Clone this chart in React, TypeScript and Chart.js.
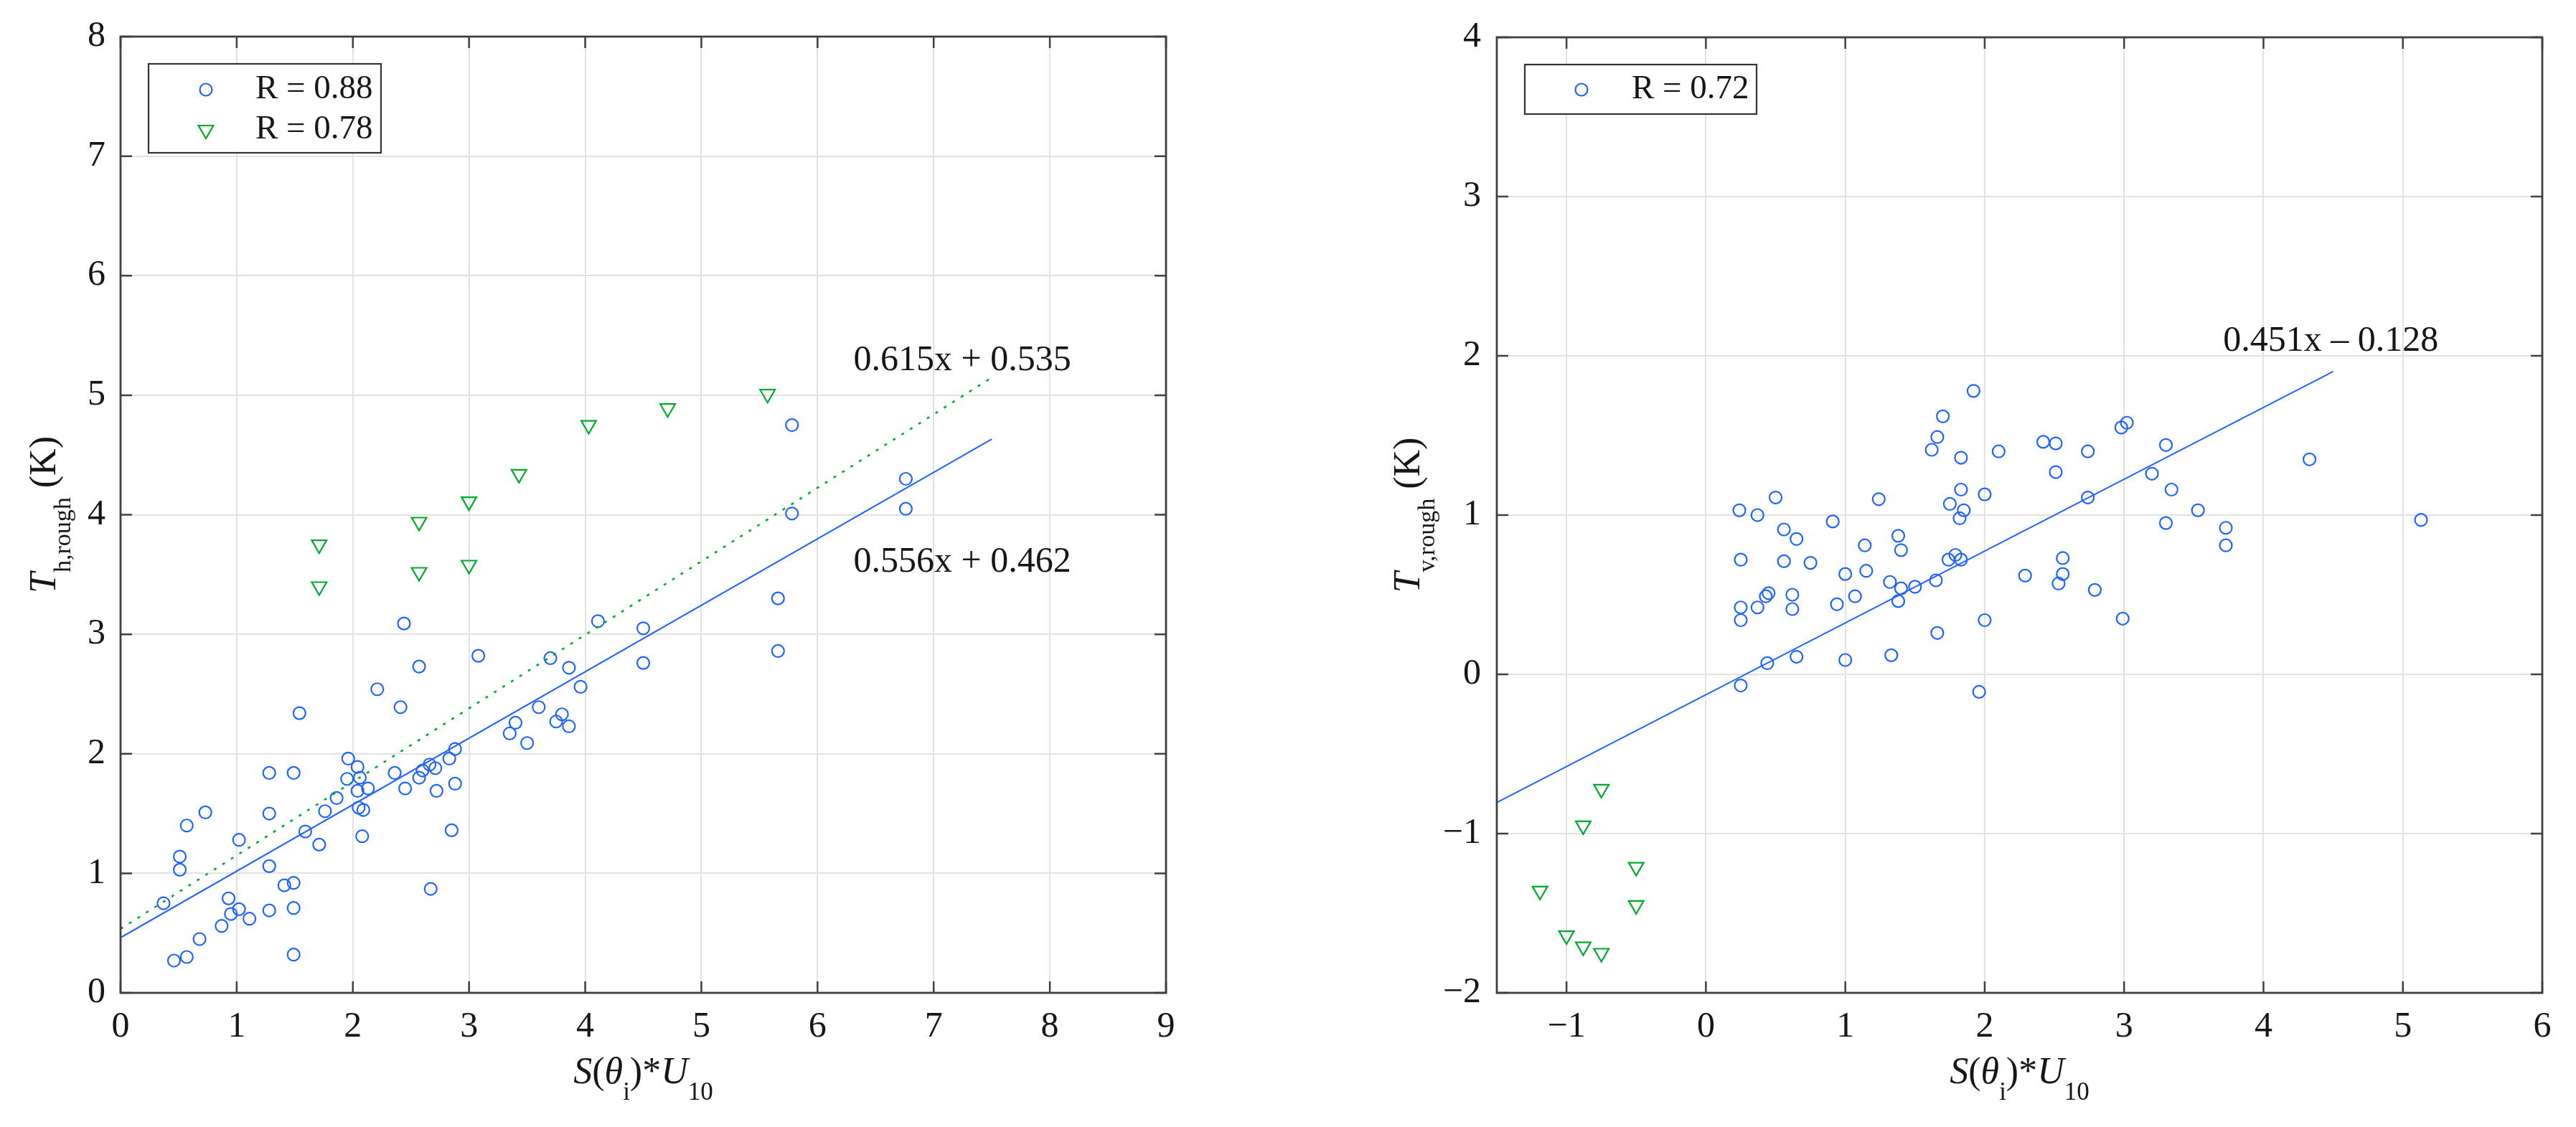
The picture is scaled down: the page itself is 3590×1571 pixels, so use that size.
import React, { useEffect, useRef } from 'react';
import { Chart, registerables } from 'chart.js';

Chart.register(...registerables);

const FONT = '"Liberation Serif", "Times New Roman", Times, serif';
const BLUE = '#1f64ff';
const GREEN = '#00aa2e';
const AXIS = '#404040';
const GRID = '#e2e2e2';
const TEXT = '#161616';

// ---------------- Left panel data ----------------
const leftCircleX = [2.44, 4.11, 4.5, 4.5, 3.08, 2.57, 3.7, 3.86, 3.96, 2.21, 2.41, 1.54, 3.6, 3.8, 3.75, 3.86, 3.4, 3.35, 3.5, 2.88, 2.83, 1.96, 2.04, 2.36, 1.28, 1.49, 2.66, 2.71, 2.6, 2.57, 1.95, 2.06, 2.13, 2.04, 2.45, 2.88, 2.72, 1.86, 1.76, 1.28, 0.73, 2.05, 2.09, 0.57, 1.59, 1.71, 2.08, 2.85, 1.02, 0.51, 0.51, 1.28, 1.49, 1.41, 2.67, 0.37, 0.93, 1.02, 0.95, 1.11, 1.28, 1.49, 0.87, 0.68, 0.57, 0.46, 1.49, 5.78, 5.78, 6.76, 6.76, 5.66, 5.66];
const leftCircleY = [3.09, 3.11, 3.05, 2.76, 2.82, 2.73, 2.8, 2.72, 2.56, 2.54, 2.39, 2.34, 2.39, 2.33, 2.27, 2.23, 2.26, 2.17, 2.09, 2.04, 1.96, 1.96, 1.89, 1.84, 1.84, 1.84, 1.91, 1.88, 1.86, 1.8, 1.79, 1.8, 1.71, 1.69, 1.71, 1.75, 1.69, 1.63, 1.52, 1.5, 1.51, 1.55, 1.53, 1.4, 1.35, 1.24, 1.31, 1.36, 1.28, 1.14, 1.03, 1.06, 0.92, 0.9, 0.87, 0.75, 0.79, 0.7, 0.66, 0.62, 0.69, 0.71, 0.56, 0.45, 0.3, 0.27, 0.32, 4.75, 4.01, 4.3, 4.05, 3.3, 2.86];
const leftTriX = [1.71, 1.71, 2.57, 2.57, 3.0, 3.0, 3.43, 4.03, 4.71, 5.57];
const leftTriY = [3.75, 3.4, 3.94, 3.52, 4.11, 3.58, 4.34, 4.75, 4.89, 5.01];
const leftFitSlopes = [0.556, 0.615];
const leftFitIntercepts = [0.462, 0.535];
const leftFitRange = [0, 7.5];
const leftFitLabels = ['0.556x + 0.462', '0.615x + 0.535'];
const leftLegendLabels = ['R = 0.88', 'R = 0.78'];
const leftXTicks = [0, 1, 2, 3, 4, 5, 6, 7, 8, 9];
const leftYTicks = [0, 1, 2, 3, 4, 5, 6, 7, 8];

// ---------------- Right panel data ----------------
const rightCircleX = [1.92, 1.7, 1.66, 1.62, 1.83, 2.1, 2.42, 2.51, 2.51, 1.83, 2.0, 1.75, 1.85, 1.82, 0.5, 0.24, 0.37, 1.24, 0.91, 0.56, 0.65, 1.38, 1.14, 1.4, 0.25, 0.56, 0.75, 1.74, 1.79, 1.83, 2.56, 2.56, 2.53, 2.29, 1.0, 1.15, 1.32, 1.4, 1.5, 1.65, 0.45, 0.43, 0.62, 0.62, 0.25, 0.25, 0.37, 1.07, 0.94, 1.38, 2.0, 1.66, 0.65, 1.0, 1.33, 0.44, 0.25, 1.96, 2.98, 3.02, 2.74, 3.3, 3.2, 3.34, 3.53, 2.74, 3.3, 3.73, 3.73, 4.33, 5.13, 2.79, 2.99];
const rightCircleY = [1.78, 1.62, 1.49, 1.41, 1.36, 1.4, 1.46, 1.45, 1.27, 1.16, 1.13, 1.07, 1.03, 0.98, 1.11, 1.03, 1.0, 1.1, 0.96, 0.91, 0.85, 0.87, 0.81, 0.78, 0.72, 0.71, 0.7, 0.72, 0.75, 0.72, 0.73, 0.63, 0.57, 0.62, 0.63, 0.65, 0.58, 0.54, 0.55, 0.59, 0.51, 0.49, 0.5, 0.41, 0.42, 0.34, 0.42, 0.49, 0.44, 0.46, 0.34, 0.26, 0.11, 0.09, 0.12, 0.07, -0.07, -0.11, 1.55, 1.58, 1.4, 1.44, 1.26, 1.16, 1.03, 1.11, 0.95, 0.92, 0.81, 1.35, 0.97, 0.53, 0.35];
const rightTriX = [-0.75, -0.88, -0.5, -0.5, -1.0, -0.88, -0.75, -1.19];
const rightTriY = [-0.72, -0.95, -1.21, -1.45, -1.64, -1.71, -1.75, -1.36];
const rightFitSlopes = [0.451];
const rightFitIntercepts = [-0.128];
const rightFitRange = [-1.5, 4.5];
const rightFitLabels = ['0.451x \u2013 0.128'];
const rightLegendLabels = ['R = 0.72'];
const rightXTicks = [-1, 0, 1, 2, 3, 4, 5, 6];
const rightYTicks = [-2, -1, 0, 1, 2, 3, 4];

type Seg = { t: string; it?: boolean; sub?: boolean };

const xTitleSegs: Seg[] = [
  { t: 'S', it: true },
  { t: '(' },
  { t: '\u03B8', it: true },
  { t: 'i', sub: true },
  { t: ')*' },
  { t: 'U', it: true },
  { t: '10', sub: true },
];
const leftYTitleSegs: Seg[] = [{ t: 'T', it: true }, { t: 'h,rough', sub: true }, { t: ' (K)' }];
const rightYTitleSegs: Seg[] = [{ t: 'T', it: true }, { t: 'v,rough', sub: true }, { t: ' (K)' }];

function pts(xs: number[], ys: number[]) {
  return xs.map((x, i) => ({ x, y: ys[i] }));
}
function fitPts(slope: number, intercept: number, range: number[]) {
  return range.map((x) => ({ x, y: slope * x + intercept }));
}

function drawRich(ctx: CanvasRenderingContext2D, segs: Seg[], x: number, y: number, rot: number, main: number, sub: number, shift: number) {
  ctx.save();
  ctx.translate(x, y);
  ctx.rotate(rot);
  ctx.textBaseline = 'alphabetic';
  ctx.textAlign = 'left';
  ctx.fillStyle = TEXT;
  const fontFor = (s: Seg) => `${s.it ? 'italic ' : ''}${s.sub ? sub : main}px ${FONT}`;
  const widths = segs.map((s) => {
    ctx.font = fontFor(s);
    return ctx.measureText(s.t).width;
  });
  const total = widths.reduce((a, b) => a + b, 0);
  let cx = -total / 2;
  segs.forEach((s, i) => {
    ctx.font = fontFor(s);
    ctx.fillText(s.t, cx, s.sub ? shift : 0);
    cx += widths[i];
  });
  ctx.restore();
}

function drawMarker(ctx: CanvasRenderingContext2D, style: string, x: number, y: number, color: string) {
  ctx.save();
  ctx.strokeStyle = color;
  ctx.lineWidth = 2.2;
  ctx.beginPath();
  if (style === 'circle') {
    ctx.arc(x, y, 8.5, 0, Math.PI * 2);
  } else {
    const r = 12;
    ctx.moveTo(x - r * Math.sin(Math.PI / 3), y - r / 2);
    ctx.lineTo(x + r * Math.sin(Math.PI / 3), y - r / 2);
    ctx.lineTo(x, y + r);
    ctx.closePath();
  }
  ctx.stroke();
  ctx.restore();
}

const decorPlugin = {
  id: 'decor',
  afterDraw(chart: any, _args: any, opts: any) {
    const { ctx, chartArea: a, scales } = chart;
    const xs = scales.x;
    const ys = scales.y;
    const TL = 16;
    ctx.save();
    // inward ticks on all four sides
    ctx.strokeStyle = AXIS;
    ctx.lineWidth = 2.5;
    ctx.beginPath();
    xs.ticks.forEach((t: any) => {
      const px = xs.getPixelForValue(t.value);
      ctx.moveTo(px, a.bottom);
      ctx.lineTo(px, a.bottom - TL);
      ctx.moveTo(px, a.top);
      ctx.lineTo(px, a.top + TL);
    });
    ys.ticks.forEach((t: any) => {
      const py = ys.getPixelForValue(t.value);
      ctx.moveTo(a.left, py);
      ctx.lineTo(a.left + TL, py);
      ctx.moveTo(a.right, py);
      ctx.lineTo(a.right - TL, py);
    });
    ctx.stroke();
    ctx.lineWidth = 2.8;
    ctx.strokeRect(a.left, a.top, a.right - a.left, a.bottom - a.top);

    // fit labels
    ctx.fillStyle = TEXT;
    ctx.font = `50px ${FONT}`;
    ctx.textAlign = 'left';
    ctx.textBaseline = 'middle';
    (opts.annotations || []).forEach((an: any) => {
      ctx.fillText(an.text, xs.getPixelForValue(an.x), ys.getPixelForValue(an.y));
    });

    // legend
    const lg = opts.legend;
    if (lg) {
      const bx = a.left + lg.x;
      const by = a.top + lg.y;
      ctx.fillStyle = '#ffffff';
      ctx.fillRect(bx, by, lg.w, lg.h);
      ctx.strokeStyle = '#333333';
      ctx.lineWidth = 2.2;
      ctx.strokeRect(bx, by, lg.w, lg.h);
      lg.rows.forEach((r: any) => {
        drawMarker(ctx, r.style, bx + lg.markerX, by + r.y, r.color);
        ctx.fillStyle = TEXT;
        ctx.font = `47px ${FONT}`;
        ctx.textAlign = 'left';
        ctx.textBaseline = 'middle';
        ctx.fillText(r.label, bx + lg.textX, by + r.y);
      });
    }

    // axis titles
    drawRich(ctx, opts.xTitle, (a.left + a.right) / 2, a.bottom + 126, 0, 52, 35, 23);
    drawRich(ctx, opts.yTitle, a.left + opts.yTitleOffset, (a.top + a.bottom) / 2, -Math.PI / 2, 52, 34, 21);
    ctx.restore();
  },
};

function tickFmt(v: number) {
  return v < 0 ? '\u2212' + Math.abs(v) : String(v);
}

function makeConfig(p: any) {
  const datasets: any[] = [];
  p.fits.forEach((f: any) => {
    datasets.push({
      type: 'line',
      data: fitPts(f.slope, f.intercept, p.fitRange),
      borderColor: f.color,
      borderWidth: f.dash ? 2.6 : 2,
      borderDash: f.dash || [],
      pointRadius: 0,
      fill: false,
    });
  });
  datasets.push({
    type: 'scatter',
    data: pts(p.triX, p.triY),
    pointStyle: 'triangle',
    pointRotation: 180,
    pointRadius: 12,
    borderColor: GREEN,
    backgroundColor: 'rgba(0,0,0,0)',
    borderWidth: 2.2,
  });
  datasets.push({
    type: 'scatter',
    data: pts(p.circX, p.circY),
    pointStyle: 'circle',
    pointRadius: 8.5,
    borderColor: BLUE,
    backgroundColor: 'rgba(0,0,0,0)',
    borderWidth: 2.2,
  });
  const tickFont = { family: FONT, size: 50 };
  return {
    type: 'scatter',
    data: { datasets },
    plugins: [decorPlugin],
    options: {
      animation: false,
      responsive: false,
      devicePixelRatio: 1,
      layout: { padding: { top: 50, right: p.padRight, bottom: 0, left: 0 } },
      plugins: {
        legend: { display: false },
        tooltip: { enabled: false },
        decor: {
          annotations: p.annotations,
          legend: p.legend,
          xTitle: xTitleSegs,
          yTitle: p.yTitle,
          yTitleOffset: p.yTitleOffset,
        },
      },
      scales: {
        x: {
          type: 'linear',
          min: p.xMin,
          max: p.xMax,
          afterBuildTicks: (s: any) => {
            s.ticks = p.xTicks.map((v: number) => ({ value: v }));
          },
          afterFit: (s: any) => {
            s.height = 187;
          },
          grid: { color: GRID, lineWidth: 2, drawTicks: false },
          border: { display: false },
          ticks: { font: tickFont, color: TEXT, padding: 18, maxRotation: 0, callback: (v: any) => tickFmt(Number(v)) },
        },
        y: {
          type: 'linear',
          min: p.yMin,
          max: p.yMax,
          afterBuildTicks: (s: any) => {
            s.ticks = p.yTicks.map((v: number) => ({ value: v }));
          },
          afterFit: (s: any) => {
            s.width = p.yAxisWidth;
          },
          grid: { color: GRID, lineWidth: 2, drawTicks: false },
          border: { display: false },
          ticks: { font: tickFont, color: TEXT, padding: p.yTickPad, callback: (v: any) => tickFmt(Number(v)) },
        },
      },
    },
  };
}

const leftPanel = {
  circX: leftCircleX,
  circY: leftCircleY,
  triX: leftTriX,
  triY: leftTriY,
  fitRange: leftFitRange,
  fits: [
    { slope: leftFitSlopes[0], intercept: leftFitIntercepts[0], color: BLUE },
    { slope: leftFitSlopes[1], intercept: leftFitIntercepts[1], color: GREEN, dash: [4, 10] },
  ],
  annotations: [
    { text: leftFitLabels[0], x: 6.31, y: 3.6 },
    { text: leftFitLabels[1], x: 6.31, y: 5.29 },
  ],
  legend: {
    x: 39, y: 38, w: 324, h: 124, markerX: 80, textX: 149,
    rows: [
      { label: leftLegendLabels[0], style: 'circle', color: BLUE, y: 36 },
      { label: leftLegendLabels[1], style: 'triangle', color: GREEN, y: 92 },
    ],
  },
  yTitle: leftYTitleSegs,
  yTitleOffset: -91,
  xMin: 0, xMax: 9, yMin: 0, yMax: 8,
  xTicks: leftXTicks, yTicks: leftYTicks,
  yAxisWidth: 168, yTickPad: 21, padRight: 135,
};

const rightPanel = {
  circX: rightCircleX,
  circY: rightCircleY,
  triX: rightTriX,
  triY: rightTriY,
  fitRange: rightFitRange,
  fits: [{ slope: rightFitSlopes[0], intercept: rightFitIntercepts[0], color: BLUE }],
  annotations: [{ text: rightFitLabels[0], x: 3.71, y: 2.09 }],
  legend: {
    x: 39, y: 38, w: 323, h: 69, markerX: 79, textX: 149,
    rows: [{ label: rightLegendLabels[0], style: 'circle', color: BLUE, y: 35 }],
  },
  yTitle: rightYTitleSegs,
  yTitleOffset: -108,
  xMin: -1.5, xMax: 6, yMin: -2, yMax: 4,
  xTicks: rightXTicks, yTicks: rightYTicks,
  yAxisWidth: 326, yTickPad: 22, padRight: 47,
};

function Panel({ panel, left, width }: { panel: any; left: number; width: number }) {
  const ref = useRef<HTMLCanvasElement>(null);
  useEffect(() => {
    const chart = new Chart(ref.current as HTMLCanvasElement, makeConfig(panel) as any);
    return () => chart.destroy();
  }, []);
  return (
    <canvas
      ref={ref}
      width={width}
      height={1571}
      style={{ position: 'absolute', left, top: 0, width, height: 1571 }}
    />
  );
}

export default function App() {
  return (
    <div style={{ position: 'absolute', left: 0, top: 0, width: 3590, height: 1571, background: '#ffffff', overflow: 'hidden' }}>
      <Panel panel={leftPanel} left={0} width={1760} />
      <Panel panel={rightPanel} left={1760} width={1830} />
    </div>
  );
}
